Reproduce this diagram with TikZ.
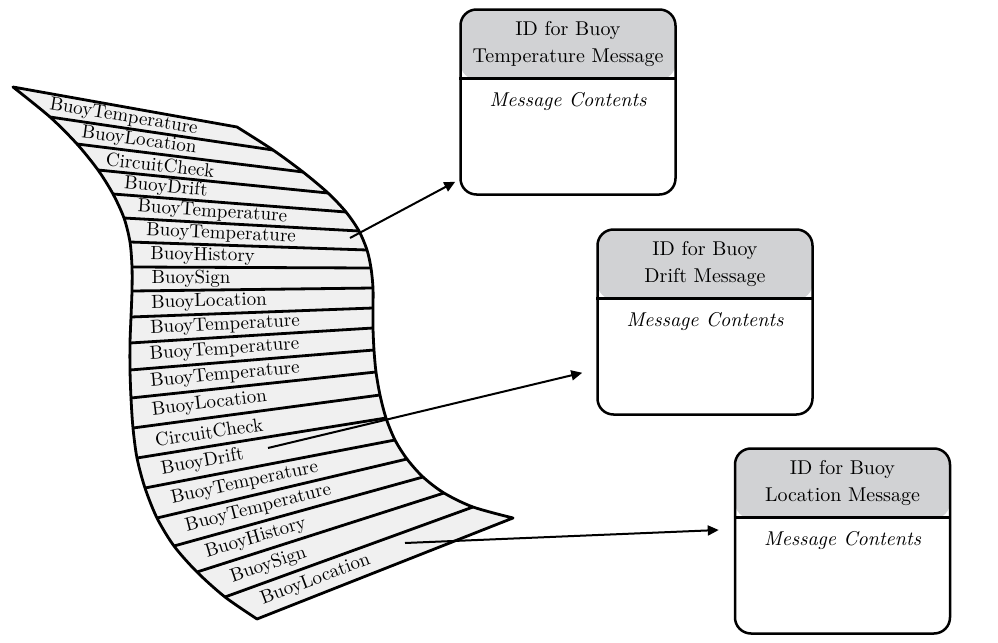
\documentclass[tikz,border=0pt]{standalone}
\usetikzlibrary{arrows.meta,calc}

\definecolor{headgray}{RGB}{209,210,212}
\definecolor{paper}{RGB}{240,240,240}

\tikzset{
  msgframe/.style={draw, line width=1.25pt, rounded corners=8pt, minimum width=107.5pt, minimum height=92.5pt, inner sep=0pt,
    path picture={\fill[headgray] (path picture bounding box.north west) rectangle ([yshift=-35pt]path picture bounding box.north east);}},
  msghead/.style={align=center, font=\fontsize{10}{13.5}\selectfont},
  msgbody/.style={font=\fontsize{10}{12}\selectfont\itshape},
  stripline/.style={line width=1.4pt},
  striptext/.style={font=\fontsize{9.5}{11}\selectfont, inner sep=0pt},
  msgarrow/.style={-{Triangle[length=5.5pt,width=5pt]}, line width=1pt},
}

\begin{document}
\begin{tikzpicture}[x=0.5pt, y=-0.5pt, line join=round]
    \useasboundingbox (0,0) rectangle (998,643);

    % SCROLL OF MESSAGES
    \foreach \i/\lx/\ly/\rx/\ry in {0/13/87/237/127, 1/50/117/273/150, 2/77/144/303/172, 3/98/170/328/193,
        4/113/194/346/212, 5/124/218/359/231, 6/130/242/367/250, 7/132/267/371/268, 8/132/291/373/288,
        9/131/317/373/308, 10/130/343/373/328, 11/130/370/374/350, 12/131/398/376/372, 13/133/428/380/395,
        14/137/458/386/418, 15/145/488/395/440, 16/157/518/407/459, 17/174/546/423/477, 18/197/572/444/493,
        19/225/597/473/507, 20/257/619/513/518} {
        \coordinate (L\i) at (\lx,\ly);
        \coordinate (R\i) at (\rx,\ry);
    }
    \filldraw[fill=paper, stripline]
        plot[smooth] coordinates {(L0) (L1) (L2) (L3) (L4) (L5) (L6) (L7) (L8) (L9) (L10) (L11) (L12) (L13) (L14) (L15) (L16) (L17) (L18) (L19) (L20)}
        -- plot[smooth] coordinates {(R20) (R19) (R18) (R17) (R16) (R15) (R14) (R13) (R12) (R11) (R10) (R9) (R8) (R7) (R6) (R5) (R4) (R3) (R2) (R1) (R0)}
        -- cycle;
    \foreach \i in {1,...,19}
        \draw[stripline] (L\i) -- (R\i);

    % Message names on the strips
    \foreach \txt [count=\i from 0] in {BuoyTemperature, BuoyLocation, CircuitCheck, BuoyDrift, BuoyTemperature,
        BuoyTemperature, BuoyHistory, BuoySign, BuoyLocation, BuoyTemperature, BuoyTemperature, BuoyTemperature,
        BuoyLocation, CircuitCheck, BuoyDrift, BuoyTemperature, BuoyTemperature, BuoyHistory, BuoySign, BuoyLocation} {
        \pgfmathtruncatemacro\j{\i+1}
        \path ($(L\i)!0.5!(L\j)$) -- node[striptext, pos=0.08, sloped, anchor=west] (name\i) {\txt} ($(R\i)!0.5!(R\j)$);
    }

    % MESSAGE BOXES
    \node (tempmsg) at (568,102) [msgframe] {};
    \draw[line width=1.25pt] ([yshift=-35pt]tempmsg.north west) -- ([yshift=-35pt]tempmsg.north east);
    \node (temphead) at ([yshift=-18pt]tempmsg.north) [msghead] {ID for Buoy\\Temperature Message};
    \node (tempbody) at ([yshift=-46.5pt]tempmsg.north) [msgbody] {Message Contents};

    \node (driftmsg) at (705,322) [msgframe] {};
    \draw[line width=1.25pt] ([yshift=-35pt]driftmsg.north west) -- ([yshift=-35pt]driftmsg.north east);
    \node (drifthead) at ([yshift=-18pt]driftmsg.north) [msghead] {ID for Buoy\\Drift Message};
    \node (driftbody) at ([yshift=-46.5pt]driftmsg.north) [msgbody] {Message Contents};

    \node (locmsg) at (842.5,541) [msgframe] {};
    \draw[line width=1.25pt] ([yshift=-35pt]locmsg.north west) -- ([yshift=-35pt]locmsg.north east);
    \node (lochead) at ([yshift=-18pt]locmsg.north) [msghead] {ID for Buoy\\Location Message};
    \node (locbody) at ([yshift=-46.5pt]locmsg.north) [msgbody] {Message Contents};

    % CONNEXIONS
    \coordinate (tempsrc) at (350,238);
    \coordinate (driftsrc) at (268,448);
    \coordinate (locsrc) at (405,543);
    \draw[msgarrow] (tempsrc) -- ($(tempmsg.south west)+(-4,-14)$);
    \draw[msgarrow] (driftsrc) -- ($(driftmsg.south west)+(-14,-43)$);
    \draw[msgarrow] (locsrc) -- ($(locmsg.west)+(-15,-11)$);
\end{tikzpicture}
\end{document}
